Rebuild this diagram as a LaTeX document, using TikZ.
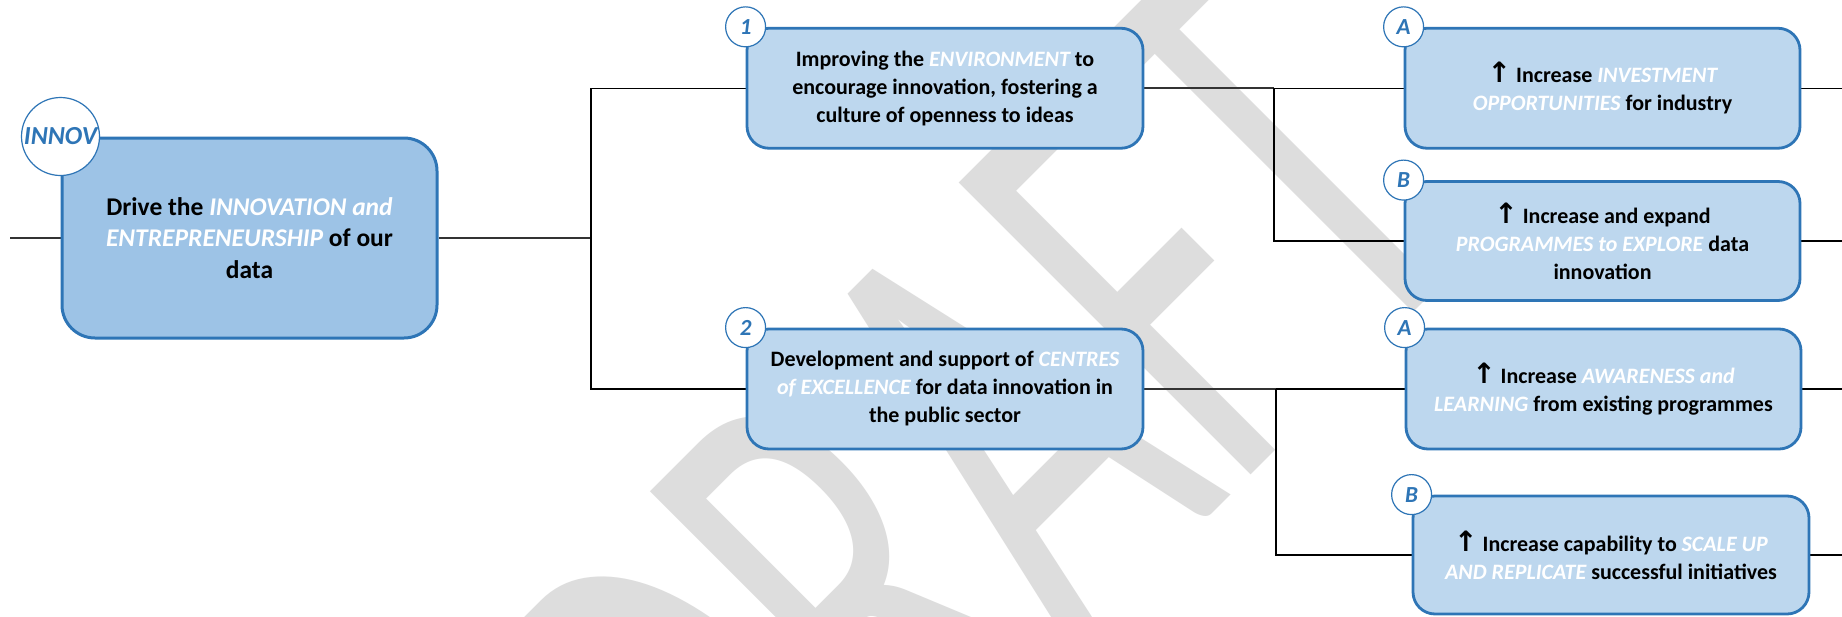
\documentclass[tikz,border=0pt]{standalone}
\usepackage{fontspec}
\setmainfont{Carlito}
\newfontfamily\arrowfont{DejaVu Sans}
\definecolor{boxblue}{HTML}{2E75B6}
\definecolor{mainfill}{HTML}{9DC3E6}
\definecolor{subfill}{HTML}{BDD7EE}
\definecolor{wmgray}{HTML}{DDDDDD}
\newcommand\hl[1]{{\color{white}\itshape #1}}
\newcommand\uparr{{\arrowfont\bfseries\fontsize{28}{28}\selectfont ↑}}
\pgfdeclarelayer{wmlayer}
\pgfdeclarelayer{linelayer}
\pgfsetlayers{wmlayer,linelayer,main}
\begin{document}
\begin{tikzpicture}[x=1pt,y=-1pt,
  mainbox/.style={draw=boxblue, line width=3pt, fill=mainfill, rounded corners=33pt,
    minimum width=375pt, minimum height=200pt, align=center, inner sep=0pt,
    font=\fontsize{25.5}{31.5}\selectfont\bfseries},
  subbox/.style={draw=boxblue, line width=2.8pt, fill=subfill, rounded corners=22pt,
    minimum width=396pt, minimum height=120pt, align=center, inner sep=0pt,
    font=\fontsize{22}{28}\selectfont\bfseries},
  tag/.style={circle, draw=boxblue, line width=1.2pt, fill=white, text=boxblue,
    minimum size=40pt, inner sep=0pt, font=\fontsize{23}{23}\selectfont\bfseries\itshape},
  bigtag/.style={tag, minimum size=78pt, font=\fontsize{26}{26}\selectfont\bfseries\itshape},
  trunk/.style={line width=2pt, draw=black!80},
  branch/.style={line width=1.1pt, draw=black},
  wm/.style={text=wmgray, inner sep=0pt, font=\fontsize{390}{390}\selectfont}]
\useasboundingbox (0,0) rectangle (1842,616);

% watermark
\begin{pgfonlayer}{wmlayer}
\clip (0,0) rectangle (1842,616);
\fill[white] (0,0) rectangle (1842,616);
\node[wm, anchor=base west, rotate=45, yscale=1.65] (wmark) at (753,973) {DRAFT};
\end{pgfonlayer}

% boxes
\node[mainbox] (main) at (249.5,238) {Drive the \hl{INNOVATION and}\\\hl{ENTREPRENEURSHIP} of our\\data};
\node[subbox] (b1) at (945,88.25) {Improving the \hl{ENVIRONMENT} to\\encourage innovation, fostering a\\culture of openness to ideas};
\node[subbox] (b2) at (945,389) {Development and support of \hl{CENTRES}\\\hl{of EXCELLENCE} for data innovation in\\the public sector};
\node[subbox, minimum width=395pt] (a1) at (1602.5,88.25) {\uparr{} Increase \hl{INVESTMENT}\\\hl{OPPORTUNITIES} for industry};
\node[subbox, minimum width=395pt, minimum height=119pt] (bb1) at (1602.5,241) {\uparr{} Increase and expand\\\hl{PROGRAMMES to EXPLORE} data\\innovation};
\node[subbox, minimum width=395pt] (a2) at (1603.5,389) {\uparr{} Increase \hl{AWARENESS and}\\\hl{LEARNING} from existing programmes};
\node[subbox, minimum height=118pt] (bb2) at (1611,555) {\uparr{} Increase capability to \hl{SCALE UP}\\\hl{AND REPLICATE} successful initiatives};

\node[bigtag] (t0) at (main.north west) {INNOV};
\node[tag] (t1) at (b1.north west) {1};
\node[tag] (t2) at (b2.north west) {2};
\node[tag] (ta1) at (a1.north west) {A};
\node[tag] (tb1) at (bb1.north west) {B};
\node[tag] (ta2) at (a2.north west) {A};
\node[tag] (tb2) at (bb2.north west) {B};

% free ends and forks
\coordinate (lstub) at (10,238);
\coordinate (f0) at (591,238);
\coordinate (f1) at (1274,88.25);
\coordinate (f2) at (1276,389);
\coordinate (r1) at (1842,88.25);
\coordinate (r2) at (1842,241);
\coordinate (r3) at (1842,389);
\coordinate (r4) at (1842,555);

% connectors
\begin{pgfonlayer}{linelayer}
\draw[trunk] (lstub) -- (main.west);
\draw[trunk] (main.east) -- (f0);
\draw[branch] (b1.west) -| (f0) |- (b2.west);
\draw[trunk] (b1.east) -- (f1);
\draw[branch] (f1) -- (a1.west);
\draw[branch] (f1) |- (bb1.west);
\draw[trunk] (b2.east) -- (f2);
\draw[branch] (f2) -- (a2.west);
\draw[branch] (f2) |- (bb2.west);
\draw[branch] (a1.east) -- (r1);
\draw[branch] (bb1.east) -- (r2);
\draw[branch] (a2.east) -- (r3);
\draw[branch] (bb2.east) -- (r4);
\end{pgfonlayer}
\end{tikzpicture}
\end{document}
